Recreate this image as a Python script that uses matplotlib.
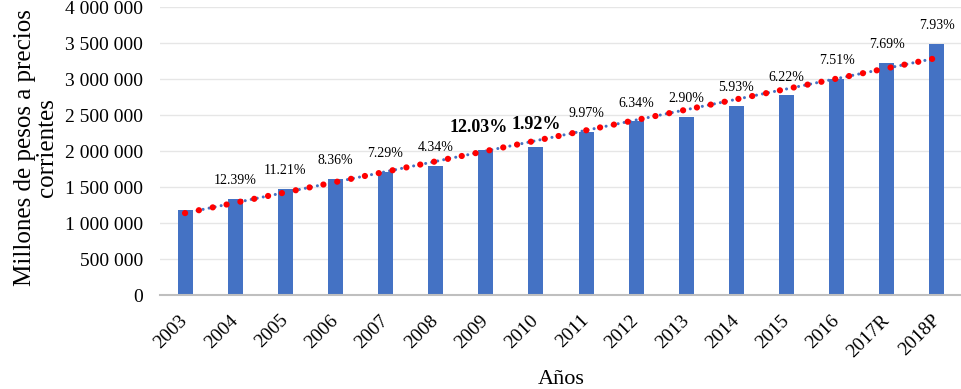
import matplotlib
matplotlib.use("Agg")
import matplotlib.pyplot as plt
import numpy as np

years = ["2003", "2004", "2005", "2006", "2007", "2008", "2009", "2010",
         "2011", "2012", "2013", "2014", "2015", "2016", "2017R", "2018P"]
pib = [1187000, 1339000, 1478000, 1617000, 1718000, 1800000, 2020000, 2060000,
       2270000, 2420000, 2480000, 2630000, 2780000, 3010000, 3230000, 3490000]
growth = ["", "12.39%", "11.21%", "8.36%", "7.29%", "4.34%", "12.03%", "1.92%",
          "9.97%", "6.34%", "2.90%", "5.93%", "6.22%", "7.51%", "7.69%", "7.93%"]
bold_labels = {"12.03%", "1.92%"}
yticks = [0, 500000, 1000000, 1500000, 2000000, 2500000, 3000000, 3500000, 4000000]

plt.rcParams['font.family'] = ['Liberation Serif', 'DejaVu Serif']

fig = plt.figure(figsize=(9.62, 3.89), dpi=100)
ax = fig.add_axes([0.1663, 0.2404, 0.8337, 0.7408])

x = np.arange(len(years))
ax.bar(x, pib, width=0.3, color="#4472C4", zorder=2)

# linear trendline
coef = np.polyfit(x, pib, 1)
tx = np.array([x[0], x[-1]])
ty = np.polyval(coef, tx)
ax.plot(tx, ty, color="#4472C4", lw=2.2, linestyle=(0, (0.01, 2.0)),
        dash_capstyle='round', zorder=3)
ax.plot(tx, ty, color="#FF0000", lw=4.5, linestyle=(0, (0.01, 2.25)),
        dash_capstyle='round', zorder=4)

for i, (v, lab) in enumerate(zip(pib, growth)):
    if not lab:
        continue
    if lab in bold_labels:
        dx = -7 if lab == "12.03%" else 0
        ax.annotate(lab, (i, v), xytext=(dx * 0.72, 16), textcoords='offset points',
                    ha='center', va='center', fontsize=13, fontweight='bold', zorder=5)
    else:
        ax.annotate(lab, (i, v), xytext=(0, 13), textcoords='offset points',
                    ha='center', va='center', fontsize=10, zorder=5)

ax.set_xlim(-0.5, len(years) - 0.5)
ax.set_ylim(0, 4000000)
ax.set_yticks(yticks)
ax.set_yticklabels([f"{t:,}".replace(",", " ") for t in yticks], fontsize=14)
ax.set_xticks(x)
ax.set_xticklabels(years, fontsize=14, rotation=45, ha='right', va='center',
                   rotation_mode='anchor')
ax.tick_params(axis='y', length=0, pad=12)
ax.tick_params(axis='x', length=0, pad=16)
ax.grid(axis='y', color="#E6E6E6", lw=1, zorder=0)
for s in ['top', 'right', 'left']:
    ax.spines[s].set_visible(False)
ax.spines['bottom'].set_color("#BFBFBF")
ax.spines['bottom'].set_linewidth(1.5)

fig.text(36 / 962, 1 - 148 / 389, "Millones de pesos a precios\ncorrientes",
         rotation=90, ha='center', va='center', multialignment='center',
         fontsize=18, linespacing=0.95)
fig.text(561 / 962, 1 - 380 / 389, "Años", ha='center', va='center', fontsize=16)

fig.savefig("out.png", dpi=100)
